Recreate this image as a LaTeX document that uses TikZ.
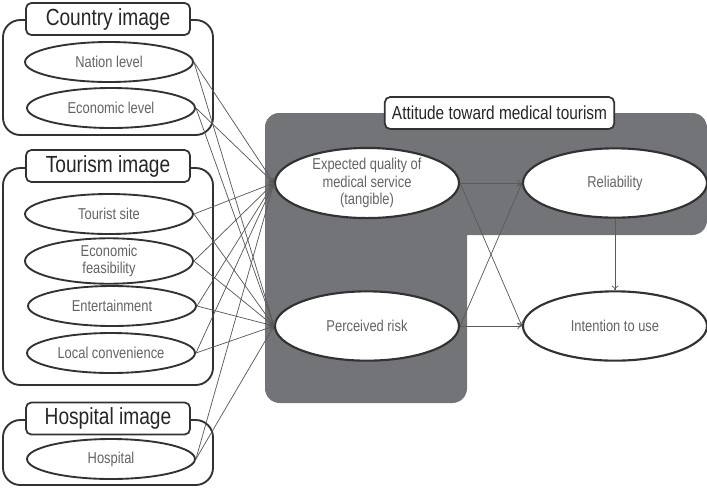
\documentclass[tikz,border=0pt]{standalone}
\usepackage{fontspec}
\setmainfont{Liberation Sans}[FakeStretch=0.82]
\usetikzlibrary{shapes.geometric,arrows.meta}

\definecolor{panelgray}{RGB}{115,116,120}
\definecolor{edgegray}{RGB}{50,50,50}
\definecolor{linegray}{RGB}{90,90,90}
\definecolor{textgray}{RGB}{100,100,100}

\tikzset{
  factor/.style={ellipse, draw=edgegray, line width=1.4pt, fill=white, inner sep=0pt,
    minimum width=126pt, minimum height=30pt, text=textgray, align=center,
    font=\fontsize{11.8}{13.1}\selectfont},
  latent/.style={factor, line width=1.6pt, minimum width=138pt, minimum height=52pt},
  grouptitle/.style={draw=edgegray, line width=1.3pt, fill=white, rounded corners=4pt,
    inner sep=0pt, minimum width=123pt, minimum height=24pt, text=black!85,
    font=\fontsize{17.5}{19}\selectfont},
  groupframe/.style={draw=edgegray, line width=1.4pt, rounded corners=13pt},
  link/.style={draw=linegray, line width=0.55pt, -{To[length=3.5pt,width=5pt]}},
}

\begin{document}
\begin{tikzpicture}[x=0.75pt,y=0.75pt,yscale=-1,xscale=1]
  \useasboundingbox (0,0) rectangle (707,487);

  %Shape: grey panel (two overlapping rounded rectangles)
  \fill[panelgray, rounded corners=11pt] (265,113) rectangle (707,235);
  \fill[panelgray, rounded corners=11pt] (265,113) rectangle (467,403);

  %Shape: group frames
  \draw[groupframe] (3,20) rectangle (213,135);
  \draw[groupframe] (3,168) rectangle (213,385);
  \draw[groupframe] (3,420) rectangle (213,485);

  % Text Node
  \node[grouptitle] (tcountry) at (108,19) {Country image};
  \node[grouptitle] (ttourism) at (108,166) {Tourism image};
  \node[grouptitle] (thospital) at (108,418.5) {Hospital image};
  \node[grouptitle, minimum width=172pt, font=\fontsize{14.1}{16}\selectfont] (tattitude) at (499.5,113) {Attitude toward medical tourism};

  %Shape: Ellipse
  \node[factor] (nation) at (109,62) {Nation level};
  \node[factor] (econ) at (111,108) {Economic level};
  \node[factor] (site) at (109,214) {Tourist site};
  \node[factor] (feas) at (109,261) {Economic\\feasibility};
  \node[factor] (ent) at (112,306) {Entertainment};
  \node[factor] (conv) at (111,353) {Local convenience};
  \node[factor] (hosp) at (111,459) {Hospital};

  \node[latent, minimum height=45pt] (qual) at (367,183) {Expected quality of\\medical service\\(tangible)};
  \node[latent] (risk) at (367,326) {Perceived risk};
  \node[latent] (rel) at (615,183) {Reliability};
  \node[latent] (intent) at (615,326) {Intention to use};

  %Straight Lines
  \foreach \s in {nation,econ,site,feas,ent,conv,hosp} {
    \draw[link] (\s.east) -- (qual.west);
    \draw[link] (\s.east) -- (risk.west);
  }
  \draw[link] (qual.east) -- (rel.west);
  \draw[link] (qual.east) -- (intent.west);
  \draw[link] (risk.east) -- (rel.west);
  \draw[link] (risk.east) -- (intent.west);
  \draw[link] (rel.south) -- (intent.north);

\end{tikzpicture}
\end{document}
